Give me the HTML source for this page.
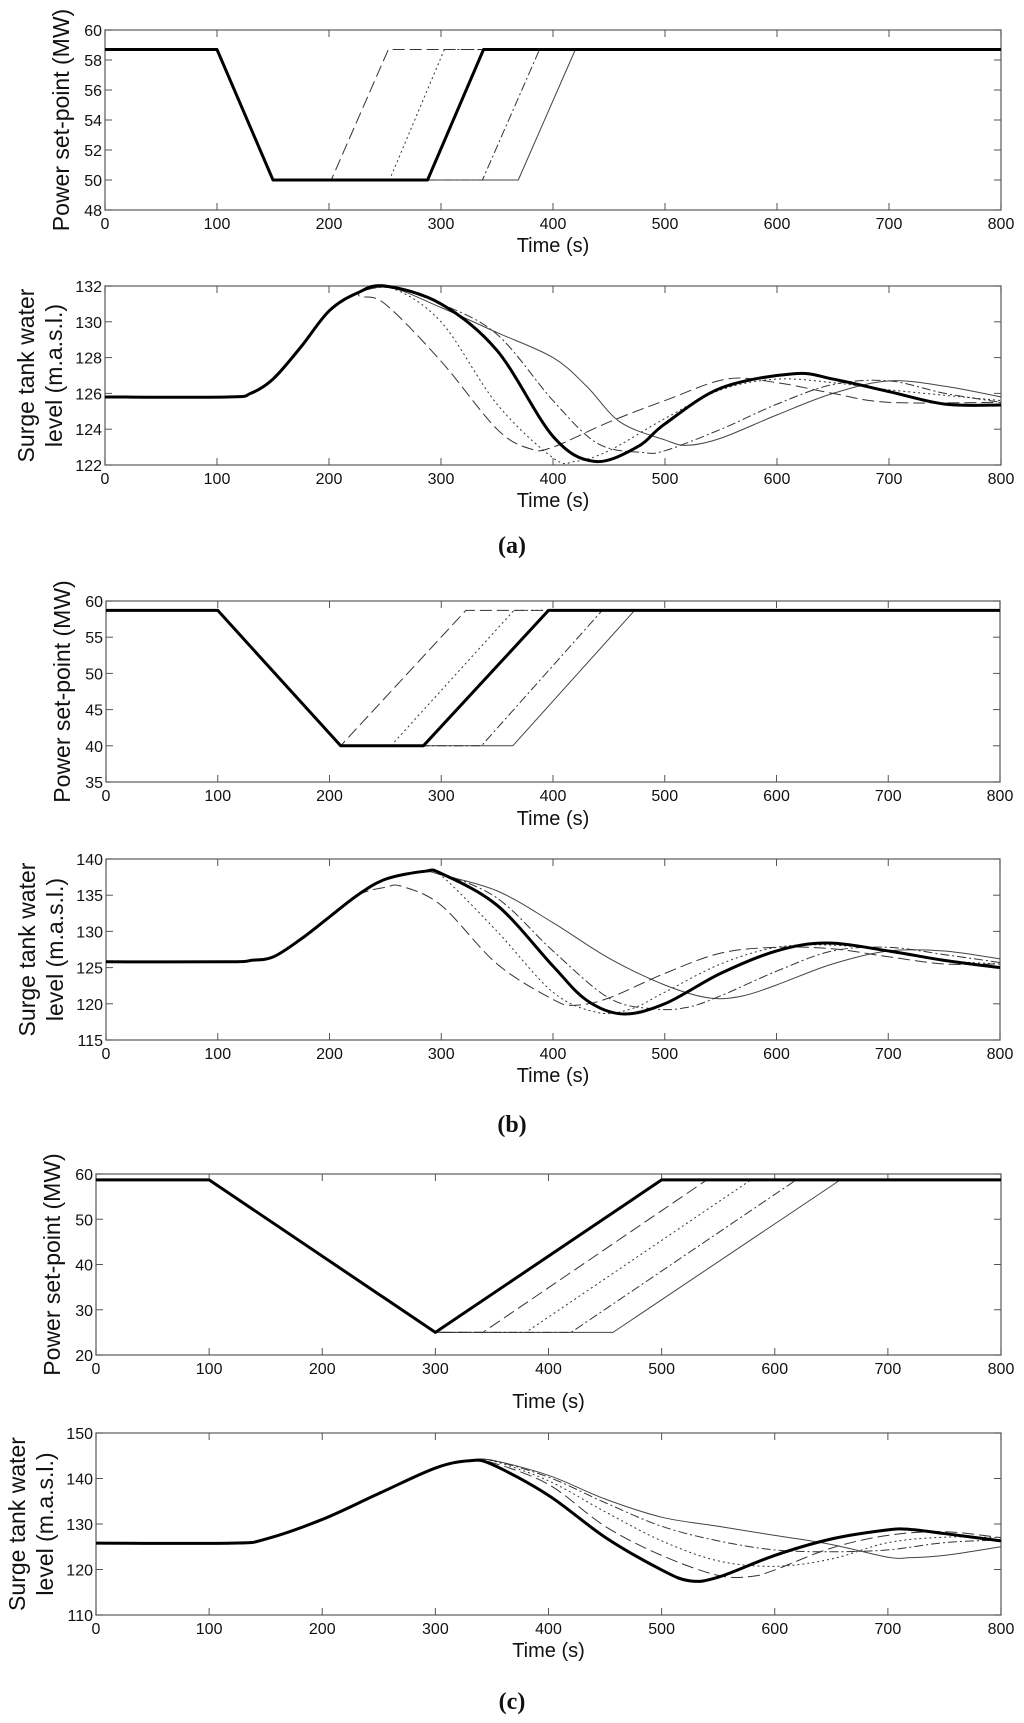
<!DOCTYPE html>
<html><head><meta charset="utf-8">
<style>
html,body{margin:0;padding:0;background:#fff;}
svg{display:block;}
text{font-family:"Liberation Sans",Arial,sans-serif;fill:#111;}
</style></head>
<body>
<svg id="fig" width="1024" height="1723" viewBox="0 0 1024 1723"></svg>
<script>
// ---- data: time breakpoints (s) and values ----
// Panel (a) power set-point
const aPowT = {thick:[0,100,150,288,338,800], dashed:[0,100,150,202,253,800], dotted:[0,100,150,254,303,800], dashdot:[0,100,150,337,388,800], thin:[0,100,150,369,420,800]};
const aPowV = [58.7,58.7,50,50,58.7,58.7];
// Panel (b)
const bPowT = {thick:[0,100,210,284,396,800], dashed:[0,100,210,210,322,800], dotted:[0,100,210,255,365,800], dashdot:[0,100,210,336,444,800], thin:[0,100,210,364,473,800]};
const bPowV = [58.7,58.7,40,40,58.7,58.7];
// Panel (c)
const cPowT = {thick:[0,100,300,300,500,800], dashed:[0,100,300,342,540,800], dotted:[0,100,300,380,579,800], dashdot:[0,100,300,420,619,800], thin:[0,100,300,457,658,800]};
const cPowV = [58.7,58.7,25,25,58.7,58.7];

// Surge (a)
const aCommonT = [0,110,130,150,175,200,225];
const aCommonV = [125.8,125.8,126.0,126.8,128.6,130.6,131.6];
const aSurgeT = {
 thick:[250,300,350,400,437,475,500,550,615,650,700,750,800],
 dashed:[228,250,300,350,380,400,450,500,555,600,650,700,800],
 dotted:[255,300,350,400,420,450,500,550,600,650,700,800],
 dashdot:[255,300,350,400,440,480,500,550,600,650,700,750,800],
 thin:[255,300,350,400,430,460,500,520,550,600,650,700,750,800]};
const aSurgeV = {
 thick:[132,131,128.4,123.6,122.2,123,124.3,126.3,127.1,126.8,126.1,125.4,125.35],
 dashed:[131.4,131,127.8,124,122.9,123,124.4,125.6,126.8,126.6,126.0,125.5,125.5],
 dotted:[131.9,130,125.4,122.4,122.2,122.8,124.6,126.2,126.8,126.6,126.2,125.6],
 dashdot:[131.9,131,129.3,125.6,123.2,122.7,122.8,124,125.4,126.5,126.7,126,125.5],
 thin:[131.9,130.8,129.4,128,126.4,124.4,123.4,123.1,123.5,124.8,126,126.7,126.4,125.8]};

// Surge (b)
const bCommonT = [0,110,130,150,175,200,225];
const bCommonV = [125.8,125.8,126.0,126.5,129.0,132,135.0];
const bSurgeT = {
 thick:[250,285,300,350,400,430,462,500,550,600,645,700,750,800],
 dashed:[250,265,300,350,400,420,450,500,550,600,650,700,750,800],
 dotted:[250,285,300,350,400,440,470,500,550,600,650,700,750,800],
 dashdot:[250,285,300,350,400,450,490,520,550,600,650,700,750,800],
 thin:[250,285,300,350,400,450,500,540,570,600,650,700,750,800]};
const bSurgeV = {
 thick:[137.2,138.3,138,133.6,125.2,120.5,118.6,120,124.2,127.3,128.4,127.3,126,125],
 dashed:[136.1,136.2,133.6,125.5,120.6,119.8,120.8,124.2,127,127.8,127.6,126.5,125.5,125.5],
 dotted:[137.2,138.2,137.7,130,121.6,118.8,119.3,121.6,125.5,127.8,128.1,127.3,126,125.5],
 dashdot:[137.2,138.2,138,134.6,127.3,120.8,119.3,119.5,121.1,124.5,127.3,127.8,126.8,125.7],
 thin:[137.2,138.2,137.8,135.6,131.2,126.3,122.6,120.8,121.1,122.6,125.5,127.3,127.3,126.2]};

// Surge (c)
const cCommonT = [0,120,150,200,250,300,330];
const cCommonV = [125.8,125.8,126.7,131,136.7,142.3,143.9];
const cSurgeT = {
 thick:[350,400,450,500,525,550,600,650,700,720,750,800],
 dashed:[350,400,450,500,550,580,600,650,700,750,800],
 dotted:[350,400,450,500,550,600,650,700,750,800],
 dashdot:[350,400,450,500,550,600,650,700,750,800],
 thin:[350,400,450,500,550,600,650,700,720,750,800]};
const cSurgeV = {
 thick:[143.1,136.3,127.1,119.9,117.5,118.3,123.1,126.7,128.7,128.8,127.9,126.3],
 dashed:[143.5,138.7,129.5,123.1,118.7,118.5,119.9,124.7,127.5,128.3,127],
 dotted:[143.9,139.5,132.7,126.3,121.9,120.7,122.3,125.9,127.1,127],
 dashdot:[144,140.3,134.7,129.5,126.3,124.3,123.9,124.3,125.9,126.5],
 thin:[144,140.7,135.5,131.5,129.5,127.5,125.5,122.7,122.6,123.1,125]};

// ---- layout ----
const NS='http://www.w3.org/2000/svg';
const svg=document.getElementById('fig');
function mk(tag,attrs,parent){const e=document.createElementNS(NS,tag);for(const k in attrs)e.setAttribute(k,attrs[k]);(parent||svg).appendChild(e);return e;}
const styles={
 thick:{w:3,d:'',c:'#000'},
 dashed:{w:1,d:'12,5',c:'#333'},
 dotted:{w:1,d:'2,3',c:'#333'},
 dashdot:{w:1,d:'9,3,2,3',c:'#333'},
 thin:{w:1,d:'',c:'#444'}};
const order=['thin','dashdot','dotted','dashed','thick'];

function axes(p){
 const g=mk('g',{});
 
 
 const sx=t=>p.x0+(t/800)*(p.x1-p.x0);
 const sy=v=>p.y1-(v-p.ymin)/(p.ymax-p.ymin)*(p.y1-p.y0);
 const fr=mk('rect',{x:p.x0,y:p.y0,width:p.x1-p.x0,height:p.y1-p.y0,fill:'none',stroke:'#666','stroke-width':1.3},g);
 
 for(let t=0;t<=800;t+=100){
  const x=sx(t);
  mk('line',{x1:x,x2:x,y1:p.y1,y2:p.y1-7,stroke:'#555'},g);
  mk('line',{x1:x,x2:x,y1:p.y0,y2:p.y0+7,stroke:'#555'},g);
  const tx=mk('text',{x:x,y:p.y1+19,'text-anchor':'middle','font-size':16},g);
  tx.textContent=t;
  
 }
 for(let v=p.ymin;v<=p.ymax+1e-9;v+=p.ystep){
  const y=sy(v);
  mk('line',{x1:p.x0,x2:p.x0+7,y1:y,y2:y,stroke:'#555'},g);
  mk('line',{x1:p.x1,x2:p.x1-7,y1:y,y2:y,stroke:'#555'},g);
  const ty=mk('text',{x:p.x0-3,y:y+6,'text-anchor':'end','font-size':16},g);
  ty.textContent=v;
  
 }
 const xl=mk('text',{x:(p.x0+p.x1)/2,y:p.xly,'text-anchor':'middle','font-size':20},g);
 xl.textContent='Time (s)';
 
 const cy=(p.y0+p.y1)/2;
 if(p.kind==='power'){
  const yl=mk('text',{x:0,y:0,'text-anchor':'middle','font-size':23,transform:`translate(${p.x0-36},${cy}) rotate(-90)`},g);
  yl.textContent='Power set-point (MW)';
  
 } else {
  const yl=mk('text',{x:0,y:0,'text-anchor':'middle','font-size':23,transform:`translate(${p.x0-71},${cy}) rotate(-90)`},g);
  yl.textContent='Surge tank water';
  
  const yl2=mk('text',{x:0,y:0,'text-anchor':'middle','font-size':23,transform:`translate(${p.x0-43},${cy}) rotate(-90)`},g);
  yl2.textContent='level (m.a.s.l.)';
  
 }
 return {g,sx,sy};
}
function smoothPath(pts){
 let d=`M${pts[0][0]},${pts[0][1]}`;
 for(let i=0;i<pts.length-1;i++){
  const p0=pts[i-1]||pts[i],p1=pts[i],p2=pts[i+1],p3=pts[i+2]||p2;
  const c1=[p1[0]+(p2[0]-p0[0])/6,p1[1]+(p2[1]-p0[1])/6];
  const c2=[p2[0]-(p3[0]-p1[0])/6,p2[1]-(p3[1]-p1[1])/6];
  d+=` C${c1[0]},${c1[1]} ${c2[0]},${c2[1]} ${p2[0]},${p2[1]}`;
 }
 return d;
}
function drawPower(p,Tset,V){
 const a=axes(p);
 order.forEach(k=>{
  const pts=Tset[k].map((t,i)=>[a.sx(t),a.sy(V[i])]);
  const s=styles[k];
  const el=mk('path',{d:'M'+pts.map(q=>q.join(',')).join(' L'),fill:'none',stroke:s.c,'stroke-width':s.w,'stroke-dasharray':s.d,'stroke-linejoin':'round'},a.g);
  
  
 });
}
function drawSurge(p,CT,CV,Tset,Vset){
 const a=axes(p);
 order.forEach(k=>{
  const T=CT.concat(Tset[k]),V=CV.concat(Vset[k]);
  const pts=T.map((t,i)=>[a.sx(t),a.sy(V[i])]);
  const s=styles[k];
  const el=mk('path',{d:smoothPath(pts),fill:'none',stroke:s.c,'stroke-width':s.w,'stroke-dasharray':s.d},a.g);
  
  
 });
}
drawPower({name:'chart-a-power',kind:'power',x0:105,x1:1001,y0:30,y1:210,ymin:48,ymax:60,ystep:2,xly:252},aPowT,aPowV);
drawSurge({name:'chart-a-surge',kind:'surge',x0:105,x1:1001,y0:286,y1:465,ymin:122,ymax:132,ystep:2,xly:507},aCommonT,aCommonV,aSurgeT,aSurgeV);
drawPower({name:'chart-b-power',kind:'power',x0:106,x1:1000,y0:601,y1:782,ymin:35,ymax:60,ystep:5,xly:825},bPowT,bPowV);
drawSurge({name:'chart-b-surge',kind:'surge',x0:106,x1:1000,y0:859,y1:1040,ymin:115,ymax:140,ystep:5,xly:1082},bCommonT,bCommonV,bSurgeT,bSurgeV);
drawPower({name:'chart-c-power',kind:'power',x0:96,x1:1001,y0:1174,y1:1355,ymin:20,ymax:60,ystep:10,xly:1408},cPowT,cPowV);
drawSurge({name:'chart-c-surge',kind:'surge',x0:96,x1:1001,y0:1433,y1:1615,ymin:110,ymax:150,ystep:10,xly:1657},cCommonT,cCommonV,cSurgeT,cSurgeV);
[['(a)',553],['(b)',1132],['(c)',1709]].forEach(([s,y])=>{
 const t=mk('text',{x:512,y:y,'text-anchor':'middle','font-size':24,'font-weight':'bold',style:'font-family:"Liberation Serif",serif'});
 t.textContent=s;
 
 
});
</script>
</body></html>
